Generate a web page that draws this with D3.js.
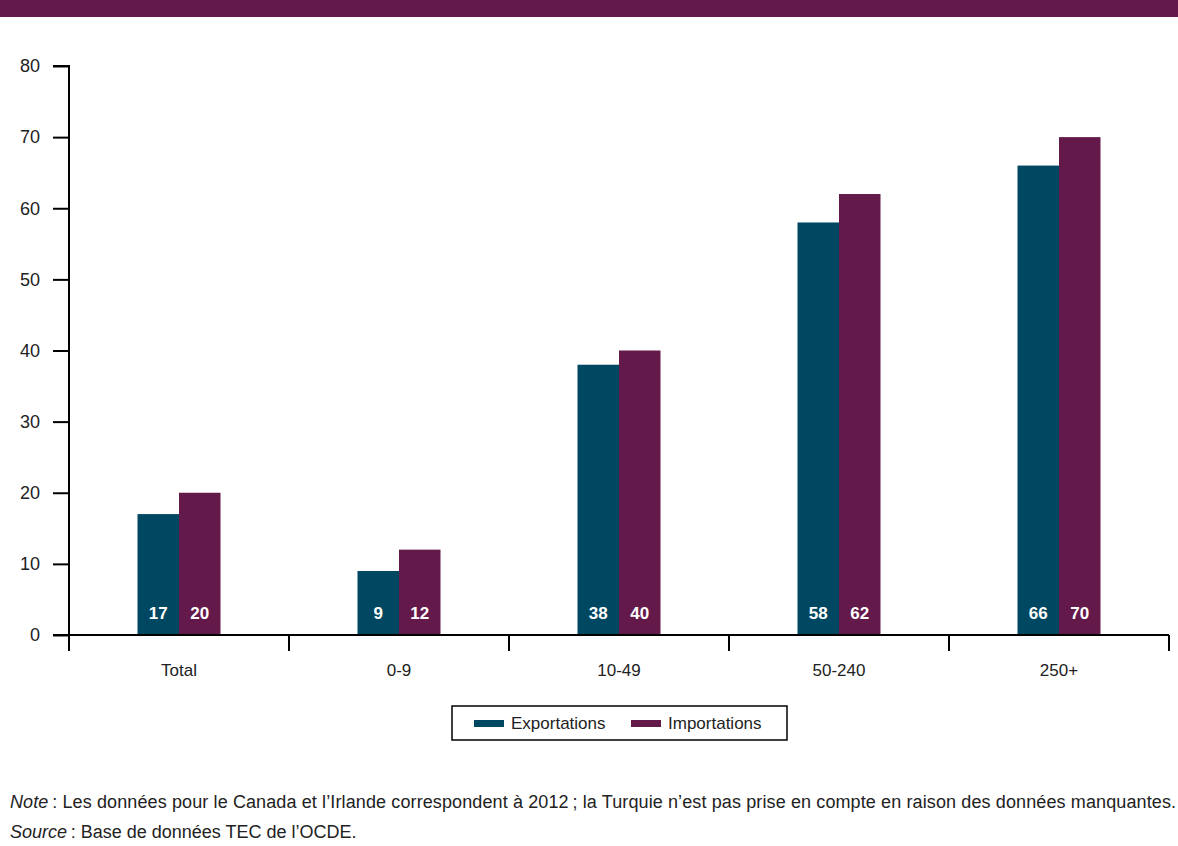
<!DOCTYPE html>
<html>
<head>
<meta charset="utf-8">
<script src="https://cdn.jsdelivr.net/npm/d3@7"></script>
<style>
  body{margin:0;background:#fff;}
  svg{display:block;font-family:"Liberation Sans",Arial,sans-serif;}
</style>
</head>
<body>
<div id="chart"></div>
<script>
// data
var categories = ["Total","0-9","10-49","50-240","250+"];
var exportations = [17,9,38,58,66];
var importations = [20,12,40,62,70];
var seriesNames = ["Exportations","Importations"];
var yTicks = [0,10,20,30,40,50,60,70,80];

var colors = {"Exportations":"#004761","Importations":"#64194B"};
var width = 1178, height = 846;
var margin = {left:69, right:9, top:66, bottom:211};

var svg = d3.select("#chart").append("svg")
  .attr("width",width).attr("height",height);

// top band
svg.append("rect").attr("x",0).attr("y",0).attr("width",width).attr("height",17)
  .attr("fill","#64194B");

var x = d3.scaleBand().domain(categories)
  .range([margin.left,width-margin.right]);
var x1 = d3.scaleBand().domain(seriesNames)
  .range([0,83]);
var y = d3.scaleLinear().domain([0,80]).range([height-margin.bottom,margin.top]);

var rows = categories.map(function(c,i){
  return {cat:c, values:[{s:"Exportations",v:exportations[i]},{s:"Importations",v:importations[i]}]};
});

var groups = svg.selectAll(".grp").data(rows).enter().append("g")
  .attr("transform",function(d){ return "translate("+(x(d.cat)+x.bandwidth()/2-41.5)+",0)"; });

groups.selectAll("rect").data(function(d){ return d.values; }).enter().append("rect")
  .attr("x",function(d){ return x1(d.s); })
  .attr("width",x1.bandwidth())
  .attr("y",function(d){ return y(d.v); })
  .attr("height",function(d){ return y(0)-y(d.v); })
  .attr("fill",function(d){ return colors[d.s]; });

groups.selectAll("text").data(function(d){ return d.values; }).enter().append("text")
  .attr("x",function(d){ return x1(d.s)+x1.bandwidth()/2; })
  .attr("y",y(0)-16)
  .attr("text-anchor","middle")
  .attr("fill","#fff")
  .attr("font-weight","bold")
  .attr("font-size",17)
  .text(function(d){ return d.v; });

// y axis
var yAxis = svg.append("g").attr("transform","translate("+margin.left+",0)")
  .call(d3.axisLeft(y).tickValues(yTicks).tickSize(16).tickPadding(13));
yAxis.selectAll("line").attr("stroke","#000").attr("stroke-width",2);
yAxis.select(".domain").attr("stroke","#000").attr("stroke-width",2)
  .attr("d","M"+(-16)+","+y(80)+"H0V"+y(0));
yAxis.selectAll("text").attr("font-size",18).attr("fill","#222")
  .attr("font-family","Liberation Sans, Arial, sans-serif");

// x axis
var xAxis = svg.append("g").attr("transform","translate(0,"+y(0)+")");
xAxis.append("line").attr("x1",margin.left-16).attr("x2",width-margin.right)
  .attr("y1",0).attr("y2",0).attr("stroke","#000").attr("stroke-width",2);
var bounds = categories.map(function(c){ return x(c); }).concat([width-margin.right]);
xAxis.selectAll(".tk").data(bounds).enter().append("line")
  .attr("x1",function(d){ return d; }).attr("x2",function(d){ return d; })
  .attr("y1",0).attr("y2",16).attr("stroke","#000").attr("stroke-width",2);
xAxis.selectAll(".lbl").data(categories).enter().append("text")
  .attr("x",function(d){ return x(d)+x.bandwidth()/2; })
  .attr("y",41)
  .attr("text-anchor","middle").attr("font-size",17).attr("fill","#222")
  .text(function(d){ return d; });

// legend
var lg = svg.append("g").attr("transform","translate(452,706)");
lg.append("rect").attr("width",335).attr("height",34)
  .attr("fill","#fff").attr("stroke","#000").attr("stroke-width",1.5);
var items = [{s:"Exportations",x:22},{s:"Importations",x:179}];
items.forEach(function(it){
  lg.append("rect").attr("x",it.x).attr("y",14).attr("width",30).attr("height",7)
    .attr("fill",colors[it.s]);
  lg.append("text").attr("x",it.x+37).attr("y",23).attr("font-size",17).attr("fill","#222")
    .text(it.s);
});

// notes
var n1 = svg.append("text").attr("x",10).attr("y",808).attr("font-size",18).attr("fill","#222")
  .attr("textLength",1166).attr("lengthAdjust","spacing");
n1.append("tspan").attr("font-style","italic").text("Note");
n1.append("tspan").text("\u202F: Les donn\u00e9es pour le Canada et l\u2019Irlande correspondent \u00e0 2012\u202F; la Turquie n\u2019est pas prise en compte en raison des donn\u00e9es manquantes.");
var n2 = svg.append("text").attr("x",10).attr("y",838).attr("font-size",18).attr("fill","#222");
n2.append("tspan").attr("font-style","italic").text("Source");
n2.append("tspan").text("\u202F: Base de donn\u00e9es TEC de l\u2019OCDE.");
</script>
</body>
</html>
